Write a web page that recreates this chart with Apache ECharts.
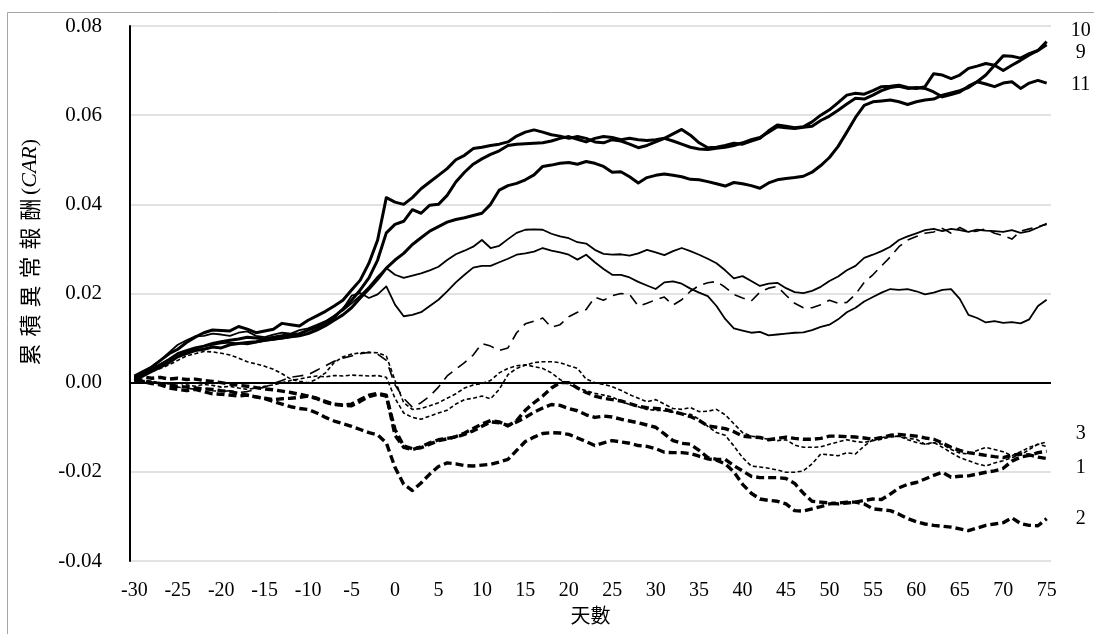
<!DOCTYPE html>
<html><head><meta charset="utf-8">
<script src="https://cdn.jsdelivr.net/npm/echarts@6/dist/echarts.min.js"></script>
<style>html,body{margin:0;padding:0;background:#fff}#c{width:1094px;height:634px}</style>
</head><body><div id="c"></div>
<script>
const days = [-30,-29,-28,-27,-26,-25,-24,-23,-22,-21,-20,-19,-18,-17,-16,-15,-14,-13,-12,-11,-10,-9,-8,-7,-6,-5,-4,-3,-2,-1,
0,1,2,3,4,5,6,7,8,9,10,11,12,13,14,15,16,17,18,19,20,21,22,23,24,25,26,27,28,29,30,31,32,33,34,35,36,37,38,39,
40,41,42,43,44,45,46,47,48,49,50,51,52,53,54,55,56,57,58,59,60,61,62,63,64,65,66,67,68,69,70,71,72,73,74,75];
const yTicks = {min:-0.04, max:0.08, step:0.02};

const car10 = [0.0015,0.0025,0.0035,0.005,0.0065,0.0075,0.009,0.0102,0.0112,0.0118,
0.0117,0.0116,0.0126,0.012,0.0112,0.0116,0.012,0.0133,0.013,0.0127,
0.014,0.015,0.016,0.0172,0.0185,0.0208,0.023,0.0268,0.032,0.0415,
0.0405,0.04,0.0415,0.0435,0.045,0.0465,0.048,0.05,0.051,0.0525,
0.0528,0.0532,0.0535,0.054,0.0553,0.0562,0.0567,0.0562,0.0556,0.0553,
0.0548,0.0552,0.0548,0.054,0.0538,0.0545,0.0542,0.0535,0.0527,0.0532,
0.054,0.0548,0.0558,0.0568,0.0555,0.0538,0.0527,0.0528,0.0532,0.0537,
0.0535,0.0542,0.0548,0.0565,0.0578,0.0575,0.0572,0.0574,0.0585,0.06,
0.0612,0.0628,0.0645,0.0649,0.0647,0.0655,0.0664,0.0665,0.0667,0.0662,
0.066,0.0664,0.0693,0.069,0.0682,0.069,0.0705,0.071,0.0716,0.0712,
0.07,0.0712,0.0723,0.0735,0.0745,0.0765];
const car11 = [0.001,0.0018,0.003,0.004,0.0052,0.0065,0.0072,0.0078,0.0082,0.0088,
0.0092,0.0095,0.0098,0.0102,0.01,0.0098,0.0102,0.0105,0.0108,0.011,
0.0118,0.0125,0.0135,0.0148,0.0165,0.0185,0.0208,0.0235,0.0275,0.0336,
0.0355,0.0362,0.0388,0.038,0.0398,0.04,0.042,0.045,0.0472,0.049,
0.0502,0.0512,0.052,0.0532,0.0535,0.0536,0.0537,0.0538,0.0542,0.0548,
0.0552,0.0546,0.054,0.0548,0.0552,0.055,0.0545,0.0548,0.0545,0.0543,
0.0545,0.0548,0.0542,0.0535,0.0528,0.0524,0.0523,0.0526,0.0528,0.0532,
0.0538,0.0545,0.055,0.0562,0.0574,0.0572,0.057,0.0573,0.0575,0.0588,
0.0598,0.0611,0.0625,0.0638,0.0636,0.0645,0.0655,0.0662,0.0665,0.066,
0.0662,0.066,0.0652,0.0641,0.0646,0.0652,0.0665,0.0675,0.067,0.0664,
0.0672,0.0675,0.066,0.0672,0.0678,0.0672];
const car9 = [0.0005,0.0015,0.0025,0.0035,0.0045,0.0058,0.0065,0.0072,0.0075,0.008,
0.0078,0.0085,0.0088,0.009,0.0092,0.0095,0.0098,0.01,0.0103,0.0105,
0.011,0.0118,0.0128,0.014,0.0152,0.0168,0.019,0.021,0.0232,0.0257,
0.0275,0.029,0.031,0.0325,0.034,0.035,0.036,0.0366,0.037,0.0375,
0.038,0.04,0.0432,0.0442,0.0447,0.0455,0.0466,0.0485,0.0488,0.0492,
0.0494,0.049,0.0496,0.0492,0.0485,0.0472,0.0473,0.0462,0.0448,0.046,
0.0465,0.0468,0.0465,0.0462,0.0456,0.0455,0.0451,0.0446,0.0441,0.0449,
0.0446,0.0442,0.0436,0.0448,0.0455,0.0458,0.046,0.0463,0.0472,0.0487,
0.0505,0.053,0.0562,0.0595,0.0622,0.063,0.0632,0.0634,0.063,0.0624,
0.063,0.0634,0.0636,0.0645,0.065,0.0655,0.0662,0.0675,0.069,0.0712,
0.0733,0.0732,0.0728,0.0738,0.0745,0.0758];
const car7 = [0.001,0.002,0.0035,0.005,0.0068,0.0085,0.0095,0.0104,0.0105,0.011,
0.0108,0.0105,0.0112,0.0115,0.0105,0.0102,0.0108,0.0112,0.011,0.0118,
0.0122,0.013,0.0138,0.015,0.0162,0.0178,0.0195,0.0215,0.0238,0.0257,
0.0242,0.0235,0.024,0.0245,0.0252,0.026,0.0275,0.0288,0.0296,0.0305,
0.032,0.0302,0.0307,0.0322,0.0336,0.0343,0.0344,0.0343,0.0334,0.0328,
0.0324,0.0315,0.0312,0.0298,0.0289,0.0287,0.0288,0.0285,0.029,0.0298,
0.0292,0.0286,0.0295,0.0302,0.0295,0.0287,0.0278,0.0268,0.0252,0.0234,
0.0239,0.0228,0.0217,0.0222,0.0224,0.0212,0.0203,0.0201,0.0206,0.0215,
0.0228,0.0238,0.0252,0.0262,0.028,0.0287,0.0295,0.0305,0.032,0.0328,
0.0335,0.0342,0.0345,0.034,0.0345,0.0342,0.0338,0.0343,0.0341,0.034,
0.0338,0.0342,0.0336,0.034,0.0348,0.0357];
const car8 = [0.0012,0.002,0.003,0.0042,0.0052,0.006,0.0068,0.0075,0.0082,0.0085,
0.0088,0.009,0.0088,0.0086,0.009,0.0094,0.0096,0.0099,0.0102,0.0105,
0.0112,0.012,0.013,0.0145,0.0165,0.0195,0.0201,0.019,0.0198,0.0216,
0.0175,0.0149,0.0152,0.0158,0.0172,0.0186,0.0205,0.0225,0.0242,0.0258,
0.0262,0.0262,0.027,0.0278,0.0287,0.029,0.0294,0.0302,0.0296,0.0292,
0.0287,0.0276,0.0287,0.027,0.0255,0.0242,0.0242,0.0236,0.0226,0.0218,
0.021,0.0225,0.0227,0.0222,0.0211,0.0202,0.0194,0.0172,0.0143,0.0122,
0.0117,0.0112,0.0114,0.0106,0.0108,0.011,0.0112,0.0113,0.0118,0.0125,
0.013,0.0142,0.0158,0.0168,0.0182,0.0192,0.0202,0.021,0.0208,0.021,
0.0205,0.0198,0.0202,0.0208,0.021,0.0188,0.0152,0.0145,0.0135,0.0138,
0.0134,0.0136,0.0133,0.0142,0.0172,0.0186];
const car6 = [0.0005,0.0003,0.0,-0.0003,-0.0008,-0.001,-0.0012,-0.0015,-0.0012,-0.0018,
-0.002,-0.0018,-0.0022,-0.002,-0.0015,-0.001,-0.0002,0.0005,0.0012,0.0015,
0.0018,0.0028,0.0038,0.0048,0.0055,0.006,0.0065,0.0068,0.0064,0.005,
-0.0005,-0.0035,-0.0055,-0.0045,-0.003,-0.001,0.0015,0.003,0.0045,0.0062,
0.0088,0.0082,0.0072,0.0078,0.0112,0.0132,0.0138,0.0145,0.0124,0.013,
0.0148,0.0158,0.0164,0.0192,0.0185,0.0195,0.02,0.0198,0.0172,0.0178,
0.0186,0.0192,0.0174,0.0186,0.0205,0.0218,0.0224,0.0227,0.0214,0.0198,
0.019,0.0183,0.0203,0.0212,0.0216,0.0196,0.0178,0.0168,0.0168,0.0175,
0.0185,0.0178,0.018,0.0198,0.0225,0.0242,0.0262,0.0282,0.0305,0.032,
0.0328,0.0335,0.0338,0.0346,0.0335,0.0348,0.0338,0.034,0.0345,0.0335,
0.033,0.0322,0.034,0.0345,0.035,0.0355];
const car4 = [0.001,0.0018,0.0025,0.0032,0.004,0.005,0.006,0.0065,0.007,0.0069,
0.0066,0.0062,0.0055,0.0047,0.0042,0.0037,0.003,0.002,0.0008,0.0003,
0.0,0.0008,0.0022,0.0045,0.0058,0.0064,0.0067,0.0068,0.0067,0.006,
0.0005,-0.0045,-0.006,-0.0058,-0.0052,-0.0045,-0.0035,-0.0025,-0.0012,-0.0005,
-0.0002,0.0005,0.0022,0.0032,0.0038,0.004,0.0036,0.0032,0.0022,0.0007,
-0.0004,-0.0012,-0.0018,-0.0024,-0.0028,-0.0032,-0.0042,-0.0049,-0.0054,-0.006,
-0.0062,-0.0063,-0.0066,-0.007,-0.0071,-0.0082,-0.0098,-0.0112,-0.0118,-0.0142,
-0.0168,-0.0187,-0.0189,-0.0192,-0.0196,-0.0201,-0.0201,-0.0198,-0.0182,-0.016,
-0.0162,-0.0164,-0.0157,-0.016,-0.0142,-0.0128,-0.0123,-0.0121,-0.012,-0.0128,
-0.0134,-0.0138,-0.0135,-0.0138,-0.015,-0.0158,-0.016,-0.0152,-0.0145,-0.015,
-0.0155,-0.0164,-0.0155,-0.0145,-0.0138,-0.0143];
const car3 = [0.0008,0.0005,0.0003,0.0,-0.0003,0.0,-0.0005,-0.0008,-0.0004,-0.0006,
-0.001,-0.0008,-0.0012,-0.0015,-0.0012,-0.0008,-0.0005,0.0,0.0005,0.0008,
0.0012,0.0015,0.0013,0.0016,0.0015,0.0017,0.0016,0.0015,0.0016,0.0012,
-0.0035,-0.0068,-0.0078,-0.0082,-0.0075,-0.0068,-0.0062,-0.0048,-0.0038,-0.0035,
-0.003,-0.0036,-0.0015,0.0018,0.0032,0.0039,0.0045,0.0047,0.0047,0.0045,
0.0038,0.0032,0.0008,0.0,-0.0004,-0.0009,-0.0017,-0.0027,-0.0035,-0.0043,
-0.0038,-0.0048,-0.0058,-0.006,-0.0056,-0.0065,-0.0064,-0.006,-0.0072,-0.0092,
-0.0112,-0.012,-0.0123,-0.0127,-0.013,-0.0128,-0.014,-0.0145,-0.0145,-0.0144,
-0.0138,-0.0133,-0.0128,-0.0132,-0.0134,-0.013,-0.0127,-0.0122,-0.012,-0.0125,
-0.0127,-0.0138,-0.0134,-0.0145,-0.0157,-0.0168,-0.0175,-0.0182,-0.0187,-0.018,
-0.0175,-0.0168,-0.0162,-0.015,-0.0138,-0.0133];
const car1 = [0.0012,0.0013,0.001,0.0012,0.0008,0.001,0.0007,0.0008,0.0005,0.0003,
0.0,-0.0003,-0.0006,-0.0008,-0.0011,-0.0014,-0.0016,-0.0019,-0.0022,-0.0026,
-0.003,-0.0036,-0.0044,-0.0049,-0.0051,-0.0052,-0.0042,-0.0031,-0.0026,-0.003,
-0.0105,-0.0142,-0.0148,-0.0146,-0.0138,-0.013,-0.0126,-0.0121,-0.0113,-0.0103,
-0.0093,-0.0085,-0.0088,-0.0097,-0.0085,-0.0062,-0.0045,-0.003,-0.0012,0.0,
0.0,-0.0012,-0.0022,-0.003,-0.0035,-0.0038,-0.0041,-0.0047,-0.0053,-0.0056,
-0.0058,-0.006,-0.0065,-0.007,-0.0076,-0.0085,-0.0097,-0.01,-0.0103,-0.011,
-0.012,-0.0122,-0.0123,-0.0128,-0.0125,-0.0122,-0.0125,-0.0127,-0.0127,-0.0125,
-0.012,-0.012,-0.0121,-0.0122,-0.0124,-0.0127,-0.0123,-0.0118,-0.0116,-0.0118,
-0.012,-0.0124,-0.0127,-0.0135,-0.0145,-0.0152,-0.0157,-0.016,-0.0163,-0.0166,
-0.0168,-0.0163,-0.016,-0.0162,-0.0167,-0.017];
const car5 = [0.0005,0.0002,-0.0002,-0.0005,-0.0012,-0.0015,-0.0018,-0.0015,-0.002,-0.0025,
-0.0026,-0.0028,-0.003,-0.0028,-0.0032,-0.0035,-0.0038,-0.0036,-0.0035,-0.0033,
-0.003,-0.0035,-0.0042,-0.0048,-0.005,-0.0048,-0.0038,-0.0028,-0.0024,-0.0028,
-0.0118,-0.0145,-0.015,-0.0144,-0.0135,-0.0128,-0.0125,-0.0122,-0.0116,-0.0108,
-0.0098,-0.0088,-0.009,-0.0096,-0.0088,-0.0078,-0.0066,-0.0057,-0.0049,-0.0051,
-0.0058,-0.0063,-0.0072,-0.0078,-0.0075,-0.0077,-0.0082,-0.0086,-0.009,-0.0095,
-0.01,-0.0115,-0.013,-0.0136,-0.0138,-0.0152,-0.0168,-0.0172,-0.0172,-0.0186,
-0.0198,-0.021,-0.0213,-0.0213,-0.0213,-0.0215,-0.0226,-0.0248,-0.0266,-0.0268,
-0.027,-0.0272,-0.027,-0.0268,-0.0264,-0.0261,-0.0262,-0.025,-0.0236,-0.0228,
-0.0224,-0.0216,-0.0208,-0.0201,-0.0212,-0.021,-0.0209,-0.0205,-0.0201,-0.0198,
-0.0192,-0.0176,-0.0167,-0.0163,-0.0157,-0.0154];
const car2 = [0.0008,0.0005,0.0,-0.0002,-0.0005,-0.0008,-0.001,-0.0012,-0.0014,-0.0015,
-0.0018,-0.002,-0.0024,-0.0028,-0.0032,-0.0036,-0.0042,-0.0048,-0.0054,-0.0058,
-0.006,-0.0068,-0.0078,-0.0086,-0.0092,-0.0098,-0.0105,-0.0112,-0.0117,-0.0135,
-0.019,-0.0228,-0.0242,-0.0225,-0.0205,-0.0188,-0.018,-0.0182,-0.0186,-0.0187,
-0.0185,-0.0183,-0.0178,-0.0172,-0.0152,-0.0132,-0.0122,-0.0114,-0.0112,-0.0113,
-0.0116,-0.0124,-0.0132,-0.0141,-0.0135,-0.013,-0.0133,-0.0136,-0.0141,-0.0143,
-0.0148,-0.0156,-0.0157,-0.0157,-0.0159,-0.0165,-0.0171,-0.0174,-0.0182,-0.02,
-0.0228,-0.0248,-0.0261,-0.0264,-0.0266,-0.0272,-0.0287,-0.0288,-0.0283,-0.0278,
-0.0272,-0.027,-0.0268,-0.0268,-0.0272,-0.0283,-0.0285,-0.0287,-0.0295,-0.0305,
-0.0312,-0.0317,-0.032,-0.0322,-0.0324,-0.0328,-0.0332,-0.0326,-0.032,-0.0317,
-0.0314,-0.0303,-0.0316,-0.032,-0.0321,-0.0305];

const serif = '"Liberation Serif","Times New Roman",serif';
const cjk = '"Noto Sans CJK TC","Noto Sans CJK SC",sans-serif';

function mk(name, data, width, type, endOffset) {
  const s = {
    name: name, type: 'line', data: data, symbol: 'none', silent: true,
    lineStyle: {color: '#000', width: width, type: type, cap: 'butt', join: 'round'},
    z: 3
  };
  if (endOffset) {
    s.endLabel = {show: true, formatter: name, color: '#000', fontFamily: serif,
      fontSize: 20, align: 'center', verticalAlign: 'middle', distance: 0, offset: endOffset};
  }
  return s;
}

const series = [
  mk('4', car4, 1.6, [4, 2.5]),
  mk('3', car3, 1.6, [4, 2.5], [34, -8]),
  mk('5', car5, 3.4, [8, 4]),
  mk('1', car1, 3.4, [8, 4], [34, 9]),
  mk('2', car2, 3.4, [8, 4], [34, 0]),
  mk('6', car6, 1.6, [11, 7]),
  mk('8', car8, 1.8, 'solid'),
  mk('7', car7, 1.8, 'solid'),
  mk('9', car9, 3, 'solid', [34, 8]),
  mk('11', car11, 3, 'solid', [34, 2]),
  mk('10', car10, 3, 'solid', [34, -11])
];
series[0].markLine = {
  silent: true, symbol: 'none', animation: false,
  label: {show: false},
  lineStyle: {color: '#000', width: 2, type: 'solid'},
  data: [{yAxis: 0}]
};

const chart = echarts.init(document.getElementById('c'), null, {renderer: 'canvas'});
chart.setOption({
  animation: false,
  backgroundColor: '#fff',
  grid: {left: 130, right: 43, top: 26, bottom: 73, containLabel: false},
  xAxis: {
    type: 'category', data: days, boundaryGap: true,
    name: '天數', nameLocation: 'middle', nameGap: 40,
    nameTextStyle: {fontFamily: cjk, fontSize: 20, color: '#000'},
    axisLine: {show: false, onZero: false},
    axisTick: {show: false},
    axisLabel: {interval: 4, fontFamily: serif, fontSize: 20, color: '#000', margin: 20},
    splitLine: {show: false}
  },
  yAxis: {
    type: 'value', min: yTicks.min, max: yTicks.max, interval: yTicks.step,
    axisLine: {show: true, lineStyle: {color: '#000', width: 2}},
    axisTick: {show: false},
    axisLabel: {fontFamily: serif, fontSize: 21, color: '#000', margin: 28,
      formatter: v => v.toFixed(2)},
    splitLine: {show: true, lineStyle: {color: '#d9d9d9', width: 1.5}}
  },
  graphic: [
    {type: 'rect', silent: true, z: -1,
     shape: {x: 7.5, y: 12.5, width: 1200, height: 800},
     style: {fill: 'none', stroke: '#a6a6a6', lineWidth: 1}},
    {type: 'text', silent: true, x: 30, y: 254, rotation: Math.PI / 2,
     style: {
       text: '{c|累}{c|積}{c|異}{c|常}{c|報}{c|酬}{p|(}{i|CAR}{p|)}',
       align: 'center', verticalAlign: 'middle', fill: '#000',
       rich: {
         c: {fontFamily: cjk, fontSize: 22, width: 29, align: 'center', fill: '#000'},
         p: {fontFamily: serif, fontSize: 22, fill: '#000'},
         i: {fontFamily: serif, fontSize: 22, fontStyle: 'italic', fill: '#000'}
       }
     }}
  ],
  series: series
});
</script>
</body></html>
